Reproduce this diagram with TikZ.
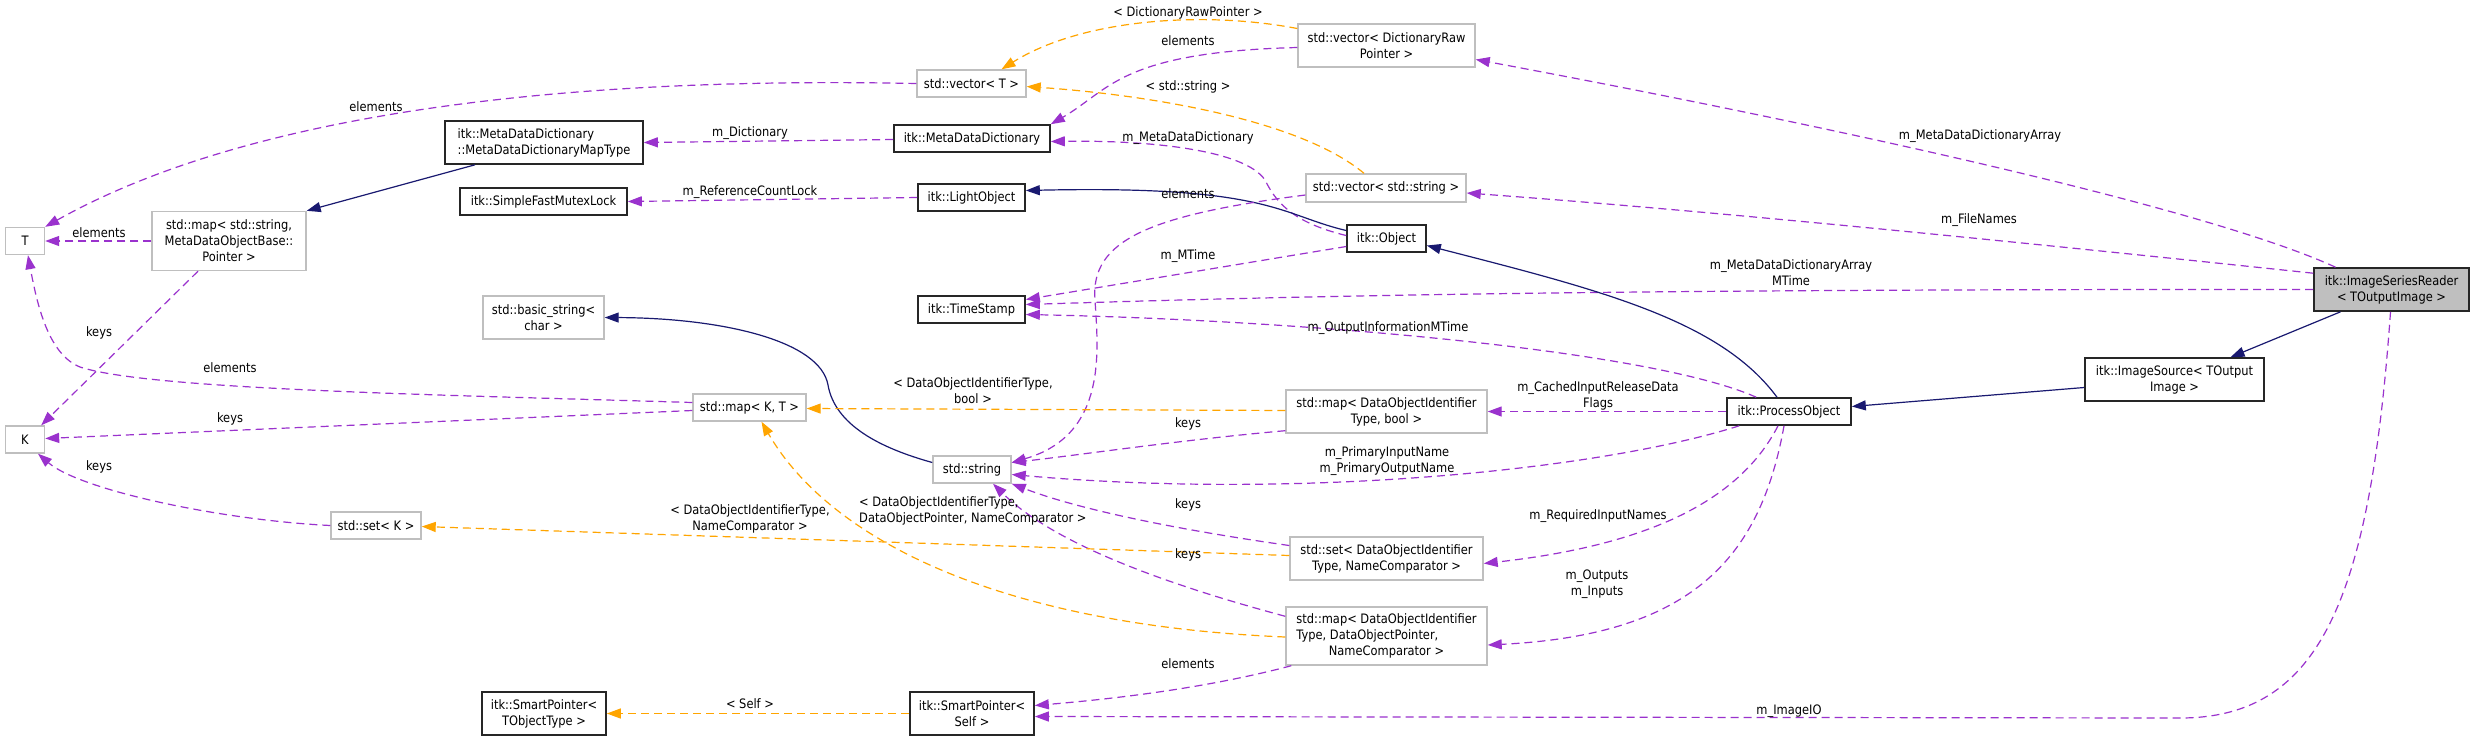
\documentclass[tikz,border=0pt]{standalone}
\usepackage{fontspec}
\newfontfamily\dfont{DejaVu Sans}[FakeStretch=0.88]
\usetikzlibrary{arrows.meta,calc}
\definecolor{purp}{HTML}{9A32CD}
\definecolor{orng}{HTML}{FFA500}
\definecolor{navy}{HTML}{191970}
\definecolor{boxgray}{HTML}{BFBFBF}
\definecolor{fillgray}{HTML}{BFBFBF}
\tikzset{
  nd/.style={inner sep=0pt, align=center, font=\dfont\fontsize{13}{16}\selectfont, fill=white},
  gbox/.style={nd, draw=boxgray, line width=1.4pt},
  bbox/.style={nd, draw=black!85, line width=1.6pt},
  tip/.style={-{Triangle[length=14pt,width=10pt]}},
  rel/.style={draw=purp, line width=1.2pt, dash pattern=on 8pt off 5pt, tip},
  tmpl/.style={draw=orng, line width=1.2pt, dash pattern=on 8pt off 5pt, tip},
  inh/.style={draw=navy, line width=1.2pt, tip},
  lbl/.style={inner sep=0pt, align=center, font=\dfont\fontsize{13}{16}\selectfont}
}
\begin{document}
\begin{tikzpicture}[x=1pt,y=-1pt]
\useasboundingbox[fill=white] (0,0) rectangle (2475,740);

% ---------- edges first (nodes drawn afterwards on top) ----------
\begin{scope}[on background layer/.style={}]
\end{scope}

% ---------- nodes ----------
\node[gbox, minimum width=39pt, minimum height=27pt] (T) at (25,241) {T};
\node[gbox, minimum width=39pt, minimum height=27pt] (K) at (25,439.5) {K};
\node[gbox, minimum width=154pt, minimum height=59pt] (mapSMD) at (229,241) {std::map< std::string,\\MetaDataObjectBase::\\Pointer >};
\node[bbox, minimum width=198pt, minimum height=43pt, align=left] (mdMap) at (544,142.5) {itk::MetaDataDictionary\\::MetaDataDictionaryMapType};
\node[bbox, minimum width=167pt, minimum height=27pt] (mutex) at (543.5,201.5) {itk::SimpleFastMutexLock};
\node[gbox, minimum width=121pt, minimum height=43pt] (basicStr) at (543.5,317.5) {std::basic\_string<\\char >};
\node[gbox, minimum width=113pt, minimum height=27pt] (mapKT) at (749.5,407.5) {std::map< K, T >};
\node[gbox, minimum width=90pt, minimum height=27pt] (setK) at (376,525.5) {std::set< K >};
\node[bbox, minimum width=124pt, minimum height=43pt] (spTObj) at (544,713.5) {itk::SmartPointer<\\TObjectType >};
\node[gbox, minimum width=177pt, minimum height=43pt] (vecDRP) at (1386.5,45.5) {std::vector< DictionaryRaw\\Pointer >};
\node[gbox, minimum width=109pt, minimum height=27pt] (vecT) at (971.5,83.5) {std::vector< T >};
\node[bbox, minimum width=156pt, minimum height=27pt] (mdd) at (972,138.5) {itk::MetaDataDictionary};
\node[gbox, minimum width=160pt, minimum height=28pt] (vecStr) at (1386,188) {std::vector< std::string >};
\node[bbox, minimum width=107pt, minimum height=27pt] (lightObj) at (971.5,197.5) {itk::LightObject};
\node[bbox, minimum width=79pt, minimum height=27pt] (object) at (1386.5,238.5) {itk::Object};
\node[bbox, minimum width=107pt, minimum height=27pt] (timeStamp) at (971.5,309.5) {itk::TimeStamp};
\node[bbox, fill=fillgray, minimum width=155pt, minimum height=43pt] (reader) at (2391.5,289.5) {itk::ImageSeriesReader\\< TOutputImage >};
\node[bbox, minimum width=179pt, minimum height=43pt] (imgSrc) at (2174.5,379.5) {itk::ImageSource< TOutput\\Image >};
\node[bbox, minimum width=124pt, minimum height=27pt] (procObj) at (1789,411.5) {itk::ProcessObject};
\node[gbox, minimum width=201pt, minimum height=43pt] (mapBool) at (1386.5,411.5) {std::map< DataObjectIdentifier\\Type, bool >};
\node[gbox, minimum width=78pt, minimum height=27pt] (stdStr) at (972,469.5) {std::string};
\node[gbox, minimum width=193pt, minimum height=43pt] (setDOI) at (1386.5,558.5) {std::set< DataObjectIdentifier\\Type, NameComparator >};
\node[gbox, minimum width=201pt, minimum height=58pt] (mapDOP) at (1386.5,636) {\begin{tabular}{@{}l@{}}std::map< DataObjectIdentifier\\Type, DataObjectPointer,\\\multicolumn{1}{@{}c@{}}{NameComparator >}\end{tabular}};
\node[bbox, minimum width=124pt, minimum height=43pt] (spSelf) at (972,713.5) {itk::SmartPointer<\\Self >};

% ---------- edges ----------
% E1 vecT -> T
\draw[rel] (vecT.west) .. controls (650,78) and (280,95) .. (T.north east);
% E2
\draw[rel] (mapSMD.west) -- (T.east);
% E3
\draw[rel] ($(mapSMD.south)+(-31,0)$) -- ($(K.north east)+(-4,0)$);
% E4 mapKT -> T
\draw[rel] ($(mapKT.west)+(0,-5)$) .. controls (450,395) and (150,390) .. (80,367) .. controls (50,355) and (38,310) .. ($(T.south)+(3,0)$);
% E5
\draw[rel] ($(mapKT.west)+(0,3)$) -- ($(K.east)+(0,-1)$);
% E6
\draw[rel] (setK.west) .. controls (220,520) and (80,490) .. ($(K.south)+(13,0)$);
% E7
\draw[inh] ($(mdMap.south)+(-69,0)$) -- (mapSMD.north east);
% E8
\draw[rel] ($(mdd.west)+(0,1)$) -- (mdMap.east);
% E9
\draw[rel] (lightObj.west) -- (mutex.east);
% E10
\draw[inh] ($(stdStr.west)+(0,-7)$) .. controls (880,448) and (835,425) .. (828,385) .. controls (820,340) and (720,318) .. (basicStr.east);
% E11
\draw[tmpl] ($(vecDRP.west)+(0,-17)$) .. controls (1200,10) and (1080,20) .. ($(vecT.north)+(30,0)$);
% E12
\draw[rel] ($(vecDRP.west)+(0,2)$) .. controls (1120,52) and (1110,90) .. (mdd.north east);
% E13
\draw[tmpl] ($(vecStr.north)+(-22,0)$) .. controls (1300,120) and (1150,95) .. ($(vecT.east)+(0,3)$);
% E14
\draw[rel] ($(object.west)+(0,-3)$) .. controls (1290,222) and (1275,200) .. (1265,180) .. controls (1245,150) and (1150,140) .. ($(mdd.east)+(0,3)$);
% E15
\draw[inh] ($(object.west)+(0,-8)$) .. controls (1280,215) and (1270,185) .. ($(lightObj.east)+(0,-7)$);
% E16
\draw[rel] ($(vecStr.west)+(0,7)$) .. controls (1150,215) and (1090,240) .. (1095,300) .. controls (1098,350) and (1108,435) .. ($(stdStr.east)+(0,-7)$);
% E17
\draw[rel] ($(object.west)+(0,8)$) -- ($(timeStamp.east)+(0,-10)$);
% E18
\draw[rel] (reader.west) .. controls (1600,289) and (1300,296) .. ($(timeStamp.east)+(0,-5)$);
% E19
\draw[rel] ($(procObj.north west)+(30,0)$) .. controls (1650,350) and (1300,320) .. ($(timeStamp.east)+(0,5)$);
% E20
\draw[inh] ($(procObj.north)+(-12,0)$) .. controls (1720,320) and (1600,290) .. ($(object.east)+(0,7)$);
% E21
\draw[inh] ($(imgSrc.west)+(0,8)$) -- ($(procObj.east)+(0,-5)$);
% E22
\draw[inh] ($(reader.south)+(-51,0)$) -- ($(imgSrc.north)+(56,0)$);
% E23
\draw[rel] ($(reader.north)+(-56,0)$) .. controls (2200,205) and (1800,120) .. ($(vecDRP.east)+(0,14)$);
% E24
\draw[rel] ($(reader.north west)+(0,6)$) .. controls (2000,240) and (1700,210) .. ($(vecStr.east)+(0,5)$);
% E25
\draw[rel] (procObj.west) -- (mapBool.east);
% E26
\draw[rel] ($(procObj.south west)+(13,0)$) .. controls (1600,470) and (1300,500) .. ($(stdStr.east)+(0,5)$);
% E27
\draw[rel] ($(mapBool.south west)+(0,-3)$) .. controls (1180,440) and (1080,455) .. ($(stdStr.east)+(0,-7)$);
% E28
\draw[rel] ($(setDOI.west)+(0,-13)$) .. controls (1180,530) and (1080,510) .. (stdStr.south east);
% E29
\draw[rel] ($(mapDOP.north west)+(0,10)$) .. controls (1150,580) and (1050,540) .. ($(stdStr.south)+(21,0)$);
% E30
\draw[rel] ($(procObj.south)+(-11,0)$) .. controls (1740,500) and (1650,545) .. ($(setDOI.east)+(0,5)$);
% E31
\draw[rel] ($(procObj.south)+(-5,0)$) .. controls (1760,560) and (1690,635) .. ($(mapDOP.east)+(0,9)$);
% E32
\draw[tmpl] ($(mapBool.west)+(0,-1)$) -- ($(mapKT.east)+(0,1)$);
% E33
\draw[tmpl] ($(mapDOP.west)+(0,1)$) .. controls (1000,625) and (830,540) .. ($(mapKT.south)+(12,0)$);
% E34
\draw[tmpl] ($(setDOI.west)+(0,-3)$) -- ($(setK.east)+(0,1)$);
% E35
\draw[rel] ($(mapDOP.south west)+(6,0)$) .. controls (1200,690) and (1100,700) .. ($(spSelf.east)+(0,-8)$);
% E36
\draw[rel] ($(reader.south)+(-1,0)$) .. controls (2370,600) and (2320,718) .. (2180,718) -- ($(spSelf.east)+(0,3)$);
% E37
\draw[tmpl] (spSelf.west) -- (spTObj.east);

% ---------- labels ----------
\node[lbl] (l1) at (376,107) {elements};
\node[lbl] (l2) at (99,233) {elements};
\node[lbl] (l3) at (99,333) {keys};
\node[lbl] (l4) at (230,368) {elements};
\node[lbl] (l5) at (230,419) {keys};
\node[lbl] (l6) at (99,467) {keys};
\node[lbl] (l7) at (750,133) {m\_Dictionary};
\node[lbl] (l8) at (750,192) {m\_ReferenceCountLock};
\node[lbl] (l9) at (1188,13) {< DictionaryRawPointer >};
\node[lbl] (l10) at (1188,41) {elements};
\node[lbl] (l11) at (1188,87) {< std::string >};
\node[lbl] (l12) at (1188,138) {m\_MetaDataDictionary};
\node[lbl] (l13) at (1188,194) {elements};
\node[lbl] (l14) at (1188,256) {m\_MTime};
\node[lbl] (l15) at (1388,328) {m\_OutputInformationMTime};
\node[lbl] (l16) at (1980,136) {m\_MetaDataDictionaryArray};
\node[lbl] (l17) at (1979,220) {m\_FileNames};
\node[lbl] (l18) at (1791,273) {m\_MetaDataDictionaryArray\\MTime};
\node[lbl] (l19) at (973,391) {< DataObjectIdentifierType,\\bool >};
\node[lbl] (l20) at (1188,424) {keys};
\node[lbl] (l21) at (1598,396) {m\_CachedInputReleaseData\\Flags};
\node[lbl] (l22) at (1387,461) {m\_PrimaryInputName\\m\_PrimaryOutputName};
\node[lbl, align=left, anchor=west] (l23) at (859,511) {< DataObjectIdentifierType,\\DataObjectPointer, NameComparator >};
\node[lbl] (l24) at (1188,505) {keys};
\node[lbl] (l25) at (1598,516) {m\_RequiredInputNames};
\node[lbl] (l26) at (1188,555) {keys};
\node[lbl] (l27) at (1597,584) {m\_Outputs\\m\_Inputs};
\node[lbl] (l28) at (750,519) {< DataObjectIdentifierType,\\NameComparator >};
\node[lbl] (l29) at (1188,664) {elements};
\node[lbl] (l30) at (750,704) {< Self >};
\node[lbl] (l31) at (1789,711) {m\_ImageIO};
\end{tikzpicture}
\end{document}
